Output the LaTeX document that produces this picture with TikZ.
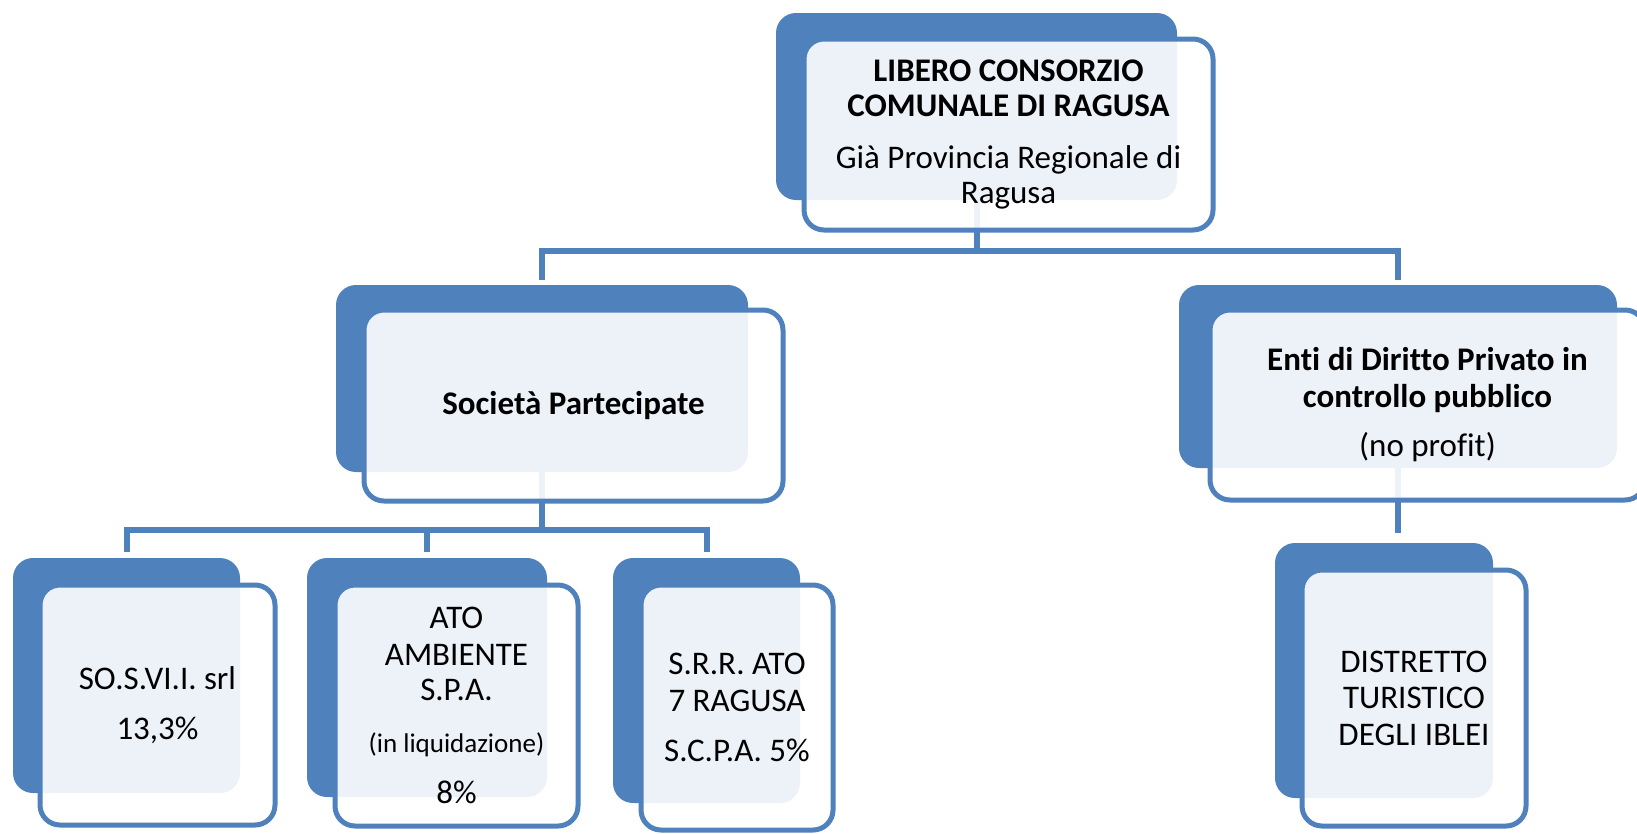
\documentclass[tikz,border=0pt]{standalone}
\usepackage{fontspec}
\setmainfont{Carlito}[Ligatures=NoCommon]
\definecolor{ob}{HTML}{4F81BD}
\newcommand\fsz{\fontsize{33pt}{36.5pt}\selectfont}
\newcommand\fszs{\fontsize{27pt}{36.5pt}\selectfont}
\begin{document}
\begin{tikzpicture}[x=1pt,y=-1pt,
  back/.style={fill=ob, rounded corners=20pt, inner sep=0pt, draw=none},
  front/.style={draw=ob, line width=5pt, fill=white, fill opacity=0.9, text opacity=1,
    rounded corners=20pt, inner sep=0pt, align=center, font=\fsz, text=black},
  conn/.style={draw=ob, line width=6pt},
]
\useasboundingbox (0,0) rectangle (1637,833);
\fill[white] (0,0) rectangle (1637,833);
\clip (0,0) rectangle (1637,833);

% back rectangles
\node[back, minimum width=401pt, minimum height=187pt] (topb) at (976.5,106.5) {};
\node[back, minimum width=412pt, minimum height=187pt] (socb) at (542,378.5) {};
\node[back, minimum width=438pt, minimum height=183pt] (entib) at (1398,376.5) {};
\node[back, minimum width=227pt, minimum height=235pt] (sosb) at (126.5,675.5) {};
\node[back, minimum width=240pt, minimum height=239pt] (atob) at (427,677.5) {};
\node[back, minimum width=187pt, minimum height=245pt] (srrb) at (706.5,680.5) {};
\node[back, minimum width=218pt, minimum height=255pt] (distb) at (1384,670.5) {};

% connectors
\coordinate (bar1) at (976.5,251);
\coordinate (bar2) at (542,530);
\draw[conn] (topb.south) -- (bar1);
\draw[conn, shorten >=5pt] (bar1) -| (socb.north);
\draw[conn, shorten >=5pt] (bar1) -| (entib.north);
\draw[conn] (socb.south) -- (bar2);
\draw[conn, shorten >=6pt] (bar2) -| (sosb.north);
\draw[conn, shorten >=6pt] (bar2) -| (atob.north);
\draw[conn, shorten >=6pt] (bar2) -| (srrb.north);
\draw[conn, shorten >=10pt] (entib.south) -- (entib.south |- distb.north);

% front boxes with text
\node[front, minimum width=409pt, minimum height=191pt] (topf) at (1008.5,134.5)
  {\textbf{LIBERO CONSORZIO}\\[-1.5pt]\textbf{COMUNALE DI RAGUSA}\\[15pt]Già Provincia Regionale di\\[-1.5pt]Ragusa};
\node[front, minimum width=419pt, minimum height=191pt] (socf) at (573.5,405.5)
  {\textbf{Società Partecipate}};
\node[front, minimum width=435pt, minimum height=190pt] (entif) at (1427.5,405)
  {\textbf{Enti di Diritto Privato in}\\\textbf{controllo pubblico}\\[13pt](no profit)};
\node[front, minimum width=235pt, minimum height=240pt] (sosf) at (157.5,705)
  {SO.S.VI.I. srl\\[13.5pt]13,3\%};
\node[front, minimum width=243pt, minimum height=241pt] (atof) at (456.5,705.5)
  {ATO\\AMBIENTE\\[-1.5pt]S.P.A.\\[16pt]{\fszs (in liquidazione)}\\[14.5pt]8\%};
\node[front, minimum width=192pt, minimum height=245pt] (srrf) at (737,707.5)
  {S.R.R. ATO\\7 RAGUSA\\[13.5pt]S.C.P.A. 5\%};
\node[front, minimum width=224pt, minimum height=256pt] (distf) at (1414,698)
  {DISTRETTO\\TURISTICO\\DEGLI IBLEI};
\end{tikzpicture}
\end{document}
